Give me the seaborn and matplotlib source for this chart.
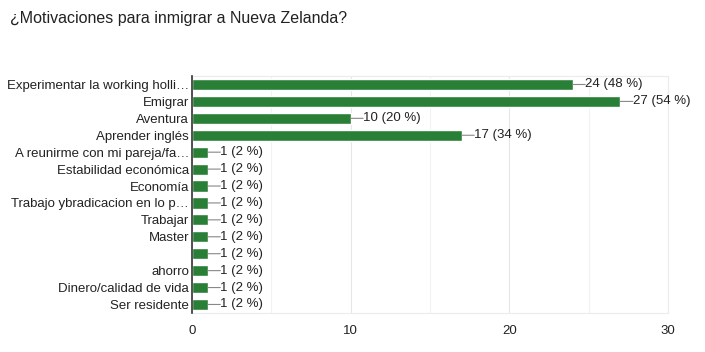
import matplotlib
matplotlib.use('Agg')
import matplotlib.pyplot as plt
import seaborn as sns
import pandas as pd

# data
labels = ['Experimentar la working holli…', 'Emigrar', 'Aventura', 'Aprender inglés',
          'A reunirme con mi pareja/fa…', 'Estabilidad económica', 'Economía',
          'Trabajo ybradicacion en lo p…', 'Trabajar', 'Master', '', 'ahorro',
          'Dinero/calidad de vida', 'Ser residente']
counts = [24, 27, 10, 17, 1, 1, 1, 1, 1, 1, 1, 1, 1, 1]
percents = [48, 54, 20, 34, 2, 2, 2, 2, 2, 2, 2, 2, 2, 2]
xticks = [0, 10, 20, 30]

sns.set_style('white')
plt.rcParams['font.family'] = ['Liberation Sans', 'DejaVu Sans']

df = pd.DataFrame({'motivo': labels, 'n': counts})

fig = plt.figure(figsize=(7.05, 3.52), dpi=100)
ax = fig.add_axes([0.2723, 0.111, 0.6752, 0.673])

sns.barplot(data=df, x='n', y='motivo', order=labels, orient='h',
            color='#2a7f37', saturation=1, width=0.66, ax=ax)

# value labels with a short leader line from the bar end
for i, (c, p) in enumerate(zip(counts, percents)):
    ax.annotate(f'{c} ({p} %)', xy=(c, i), xytext=(9, 0), textcoords='offset points',
                va='center', ha='left', fontsize=9.5, color='#222222',
                arrowprops=dict(arrowstyle='-', color='#888888', lw=0.8, patchA=None,
                                relpos=(0, 0.5), shrinkA=0, shrinkB=0))

ax.set_xlim(0, 30)
ax.set_ylim(len(labels) - 0.5, -0.5)
ax.set_xticks(xticks)
ax.set_xticks([5, 15, 25], minor=True)
ax.grid(axis='x', which='major', color='#e6e6e6', lw=0.8)
ax.grid(axis='x', which='minor', color='#f2f2f2', lw=0.8)
ax.set_axisbelow(True)
ax.tick_params(axis='both', length=0, labelsize=9.5, colors='#222222')
ax.tick_params(axis='x', pad=9)
ax.tick_params(axis='y', pad=2)
ax.set_xlabel('')
ax.set_ylabel('')
for s in ['top', 'right', 'bottom']:
    ax.spines[s].set_color('#ececec')
ax.spines['left'].set_color('#333333')
ax.spines['left'].set_linewidth(1.2)
ax.spines['left'].set_zorder(5)

fig.text(10 / 705, 1 - 18 / 352, '¿Motivaciones para inmigrar a Nueva Zelanda?',
         fontsize=11.5, color='#222222', va='center', ha='left')

fig.savefig('out.png', dpi=100)
